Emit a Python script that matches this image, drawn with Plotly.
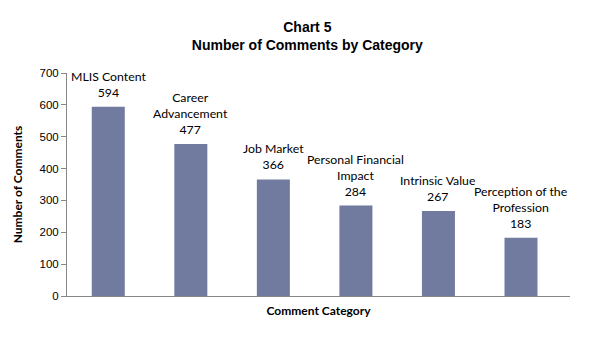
import plotly.graph_objects as go

categories = ["MLIS Content", "Career Advancement", "Job Market", "Personal Financial Impact",
              "Intrinsic Value", "Perception of the Profession"]
label_lines = ["MLIS Content", "Career<br>Advancement", "Job Market", "Personal Financial<br>Impact",
               "Intrinsic Value", "Perception of the<br>Profession"]
values = [594, 477, 366, 284, 267, 183]

bar_color = "#717BA0"
label_font = "Lato, Carlito, Calibri, 'Open Sans', sans-serif"

fig = go.Figure()
fig.add_trace(go.Bar(x=categories, y=values, marker=dict(color=bar_color, line=dict(width=0)),
                     width=0.4, hoverinfo="skip"))

for c, lab, v in zip(categories, label_lines, values):
    fig.add_annotation(x=c, y=v, xref="x", yref="y", text=f"{lab}<br>{v}", showarrow=False,
                       yanchor="bottom", yshift=5, font=dict(family=label_font, size=12.3, color="#000"))

fig.update_layout(
    width=605, height=352,
    margin=dict(l=67, r=35, t=73, b=56),
    paper_bgcolor="white", plot_bgcolor="white",
    showlegend=False,
    title=dict(text="<b>Chart 5<br>Number of Comments by Category</b>", x=0.508, xanchor="center",
               y=0.91, yanchor="top",
               font=dict(family="Arial, Liberation Sans, sans-serif", size=14, color="#000")),
    xaxis=dict(showline=True, linecolor="#868686", linewidth=1, ticks="", showticklabels=False,
               showgrid=False, zeroline=False,
               title=dict(text="<b>Comment Category</b>", standoff=10,
                          font=dict(family=label_font, size=12, color="#000"))),
    yaxis=dict(range=[0, 700], dtick=100, showline=True, linecolor="#868686", linewidth=1,
               ticks="outside", ticklen=5, tickcolor="#868686", showgrid=False, zeroline=False,
               tickfont=dict(family="Arial, Liberation Sans, sans-serif", size=11.5, color="#000"),
               title=dict(text="<b>Number of Comments</b>", standoff=14,
                          font=dict(family=label_font, size=12, color="#000"))),
)

fig.write_html("out.html")
